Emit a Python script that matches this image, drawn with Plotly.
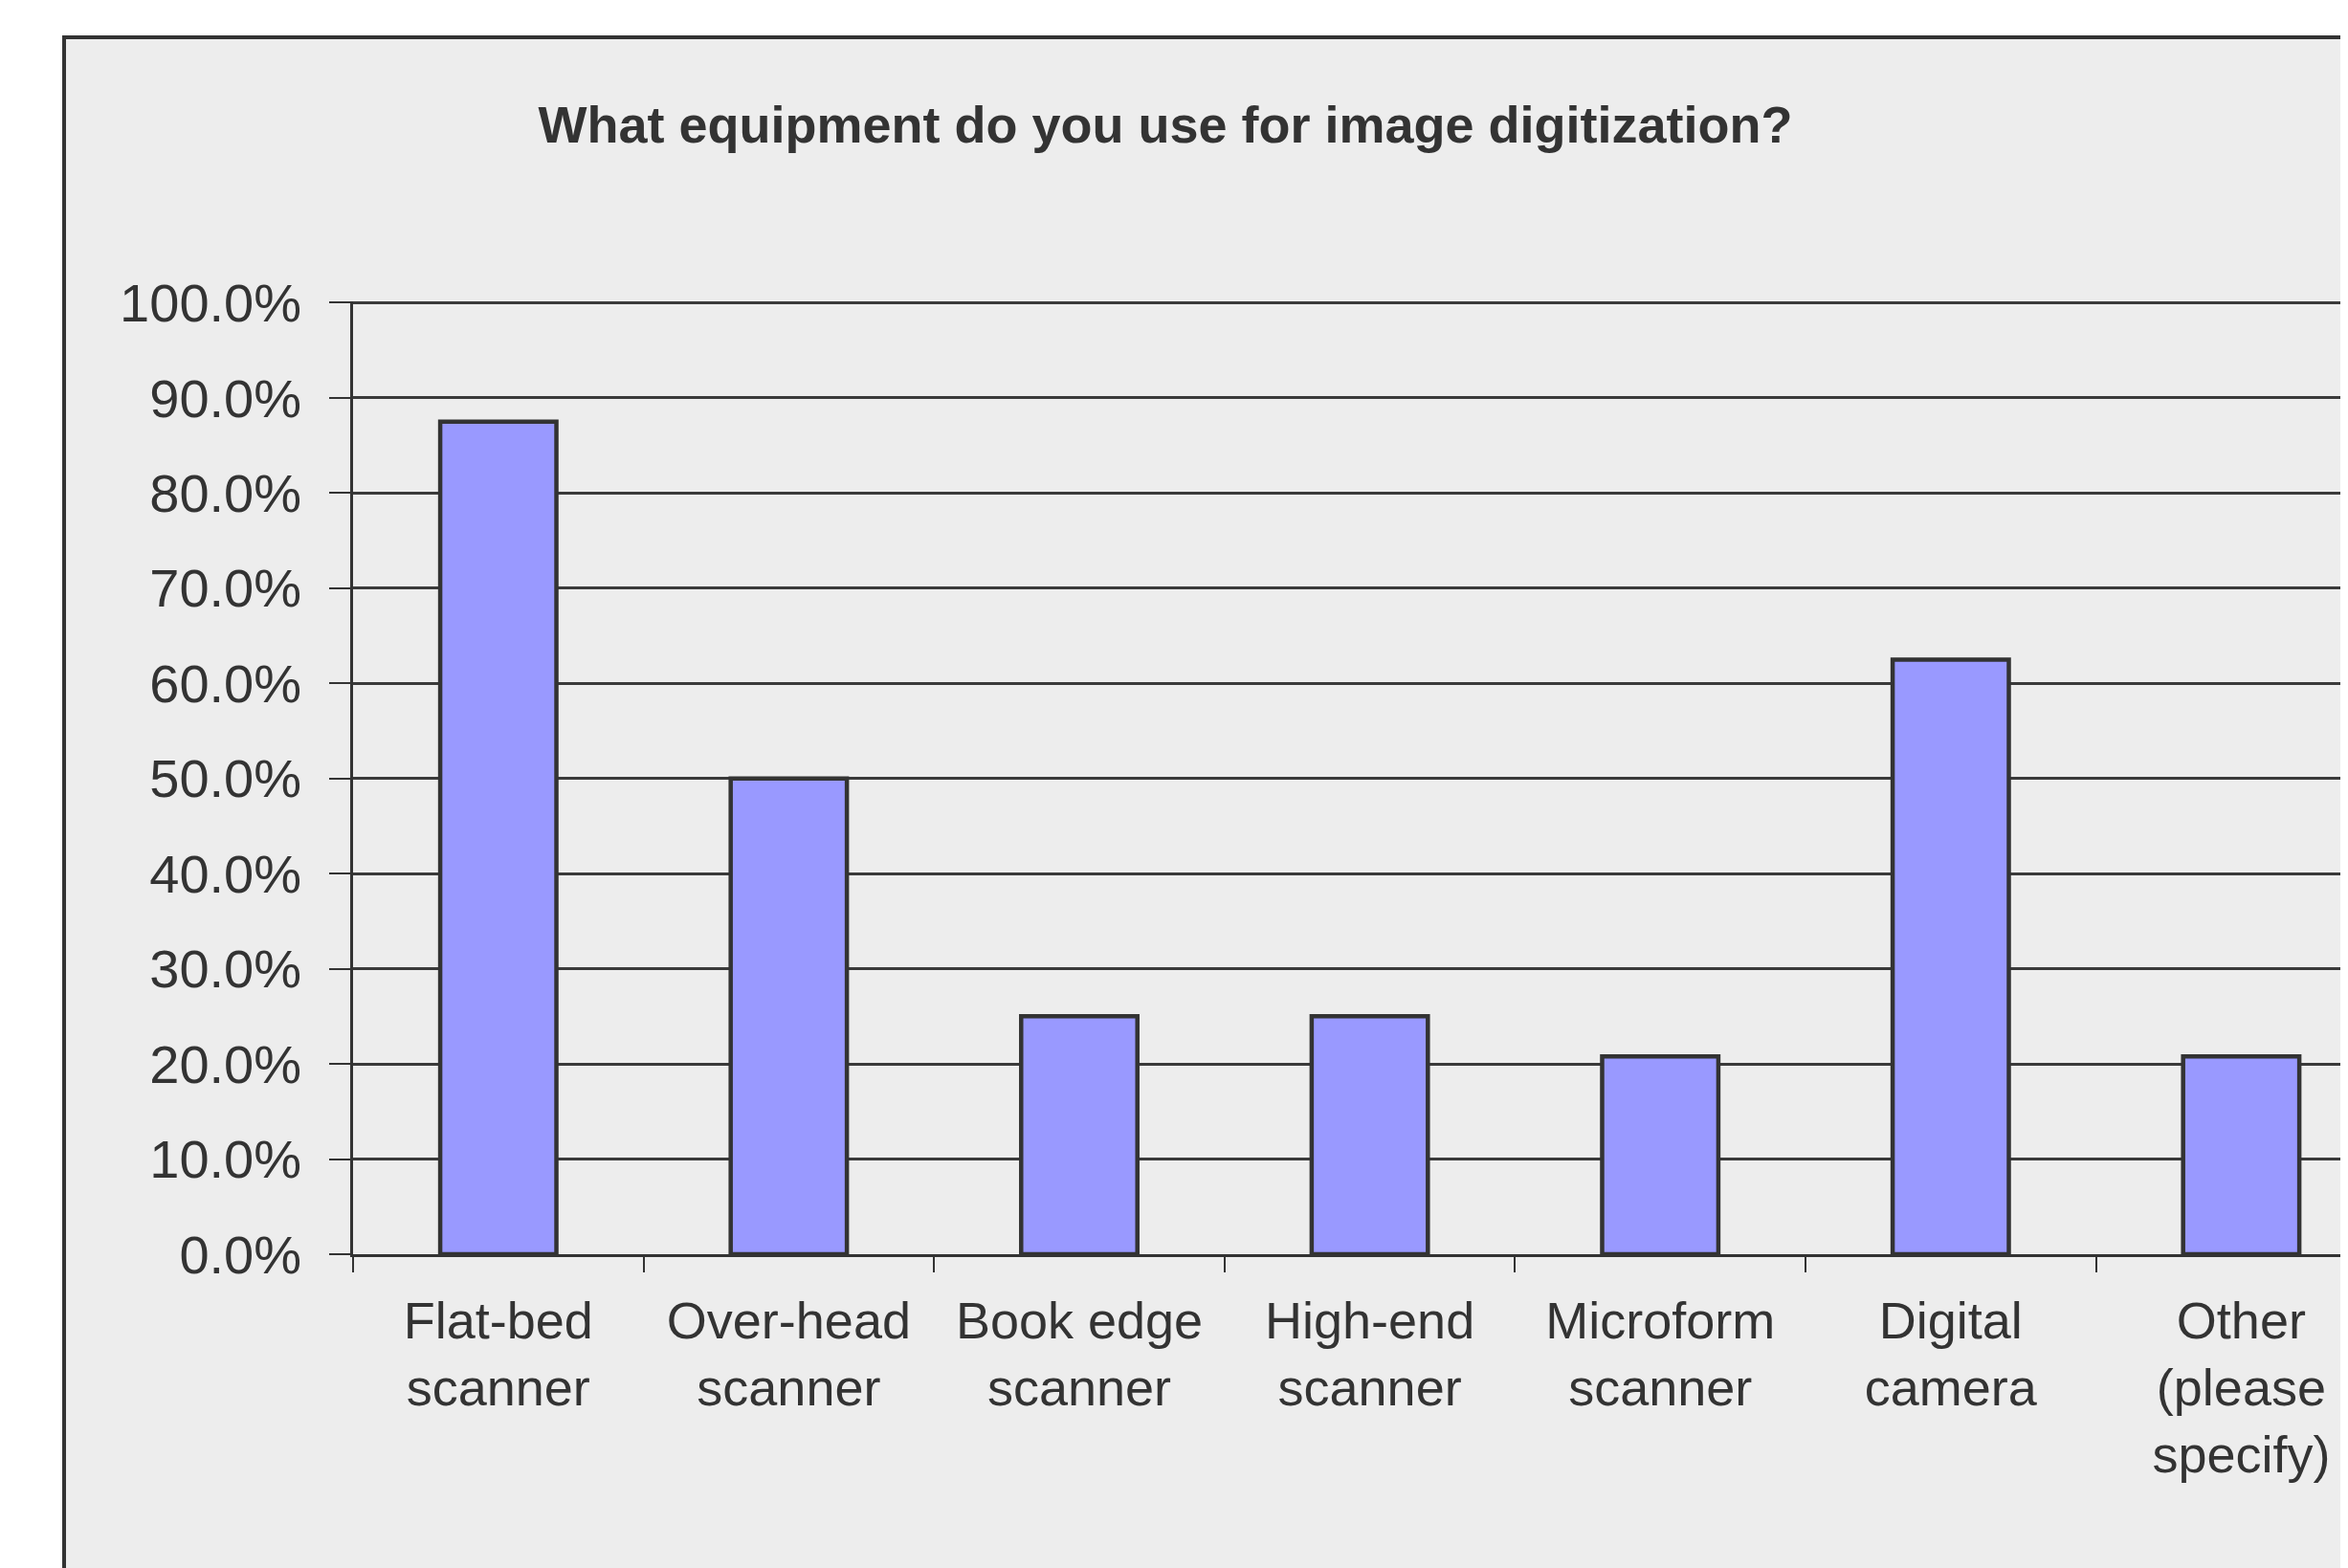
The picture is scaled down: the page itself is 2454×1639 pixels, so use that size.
import plotly.graph_objects as go

categories = ["Flat-bed<br>scanner", "Over-head<br>scanner", "Book edge<br>scanner",
              "High-end<br>scanner", "Microform<br>scanner", "Digital<br>camera",
              "Other<br>(please<br>specify)"]
values = [0.875, 0.50, 0.25, 0.25, 0.208, 0.625, 0.208]
title_text = "What equipment do you use for image digitization?"

W, H = 2454, 1639
OFF = 8  # default page body margin
L, R, T = 369 - OFF, 0, 315 - OFF
B = H - (1311 - OFF)
pw, ph = W - L - R, H - T - B
step = 303.6
x_hi = -0.5 + pw / step

FONT = "Liberation Sans, Arial, sans-serif"
TXT = "#333333"

fig = go.Figure()
fig.add_trace(go.Bar(
    x=categories, y=values,
    marker=dict(color="#9999FF", line=dict(color="#333333", width=4.5)),
    width=0.4,
))

# chart area background with border
fig.add_shape(type="rect", xref="paper", yref="paper",
              x0=(67 - OFF - L) / pw, x1=1.2, y0=-0.6, y1=(H - B - (39 - OFF)) / ph,
              fillcolor="#EDEDED", line=dict(color="#333333", width=4), layer="below")

fig.update_layout(
    width=W, height=H,
    margin=dict(l=L, r=R, t=T, b=B, autoexpand=False),
    paper_bgcolor="white", plot_bgcolor="rgba(0,0,0,0)",
    showlegend=False,
    font=dict(family=FONT, color=TXT, size=56),
    title=dict(text="<b>" + title_text + "</b>", xref="container", yref="container",
               x=(1218 - OFF) / W, y=1 - (130 - OFF) / H, xanchor="center", yanchor="middle",
               font=dict(family=FONT, size=54, color=TXT)),
)
fig.update_xaxes(
    type="category", categoryorder="array", categoryarray=categories,
    range=[-0.5, x_hi], tickangle=0, showgrid=False, showline=True,
    linecolor="#333333", linewidth=2.5, ticks="outside", ticklen=16, tickwidth=2,
    tickcolor="#333333", tickson="boundaries", ticklabelstandoff=20,
    tickfont=dict(size=54, color=TXT), automargin=False, zeroline=False,
)
fig.update_yaxes(
    range=[0, 1.0015], dtick=0.1, tick0=0, tickformat=".1%", showgrid=True,
    gridcolor="#3a3a3a", gridwidth=2.5, showline=True, linecolor="#333333", linewidth=2.5,
    ticks="outside", ticklen=22, tickwidth=2, tickcolor="#333333",
    ticklabelstandoff=18, tickfont=dict(size=56, color=TXT), automargin=False,
    zeroline=False,
)
fig.write_html("out.html")
